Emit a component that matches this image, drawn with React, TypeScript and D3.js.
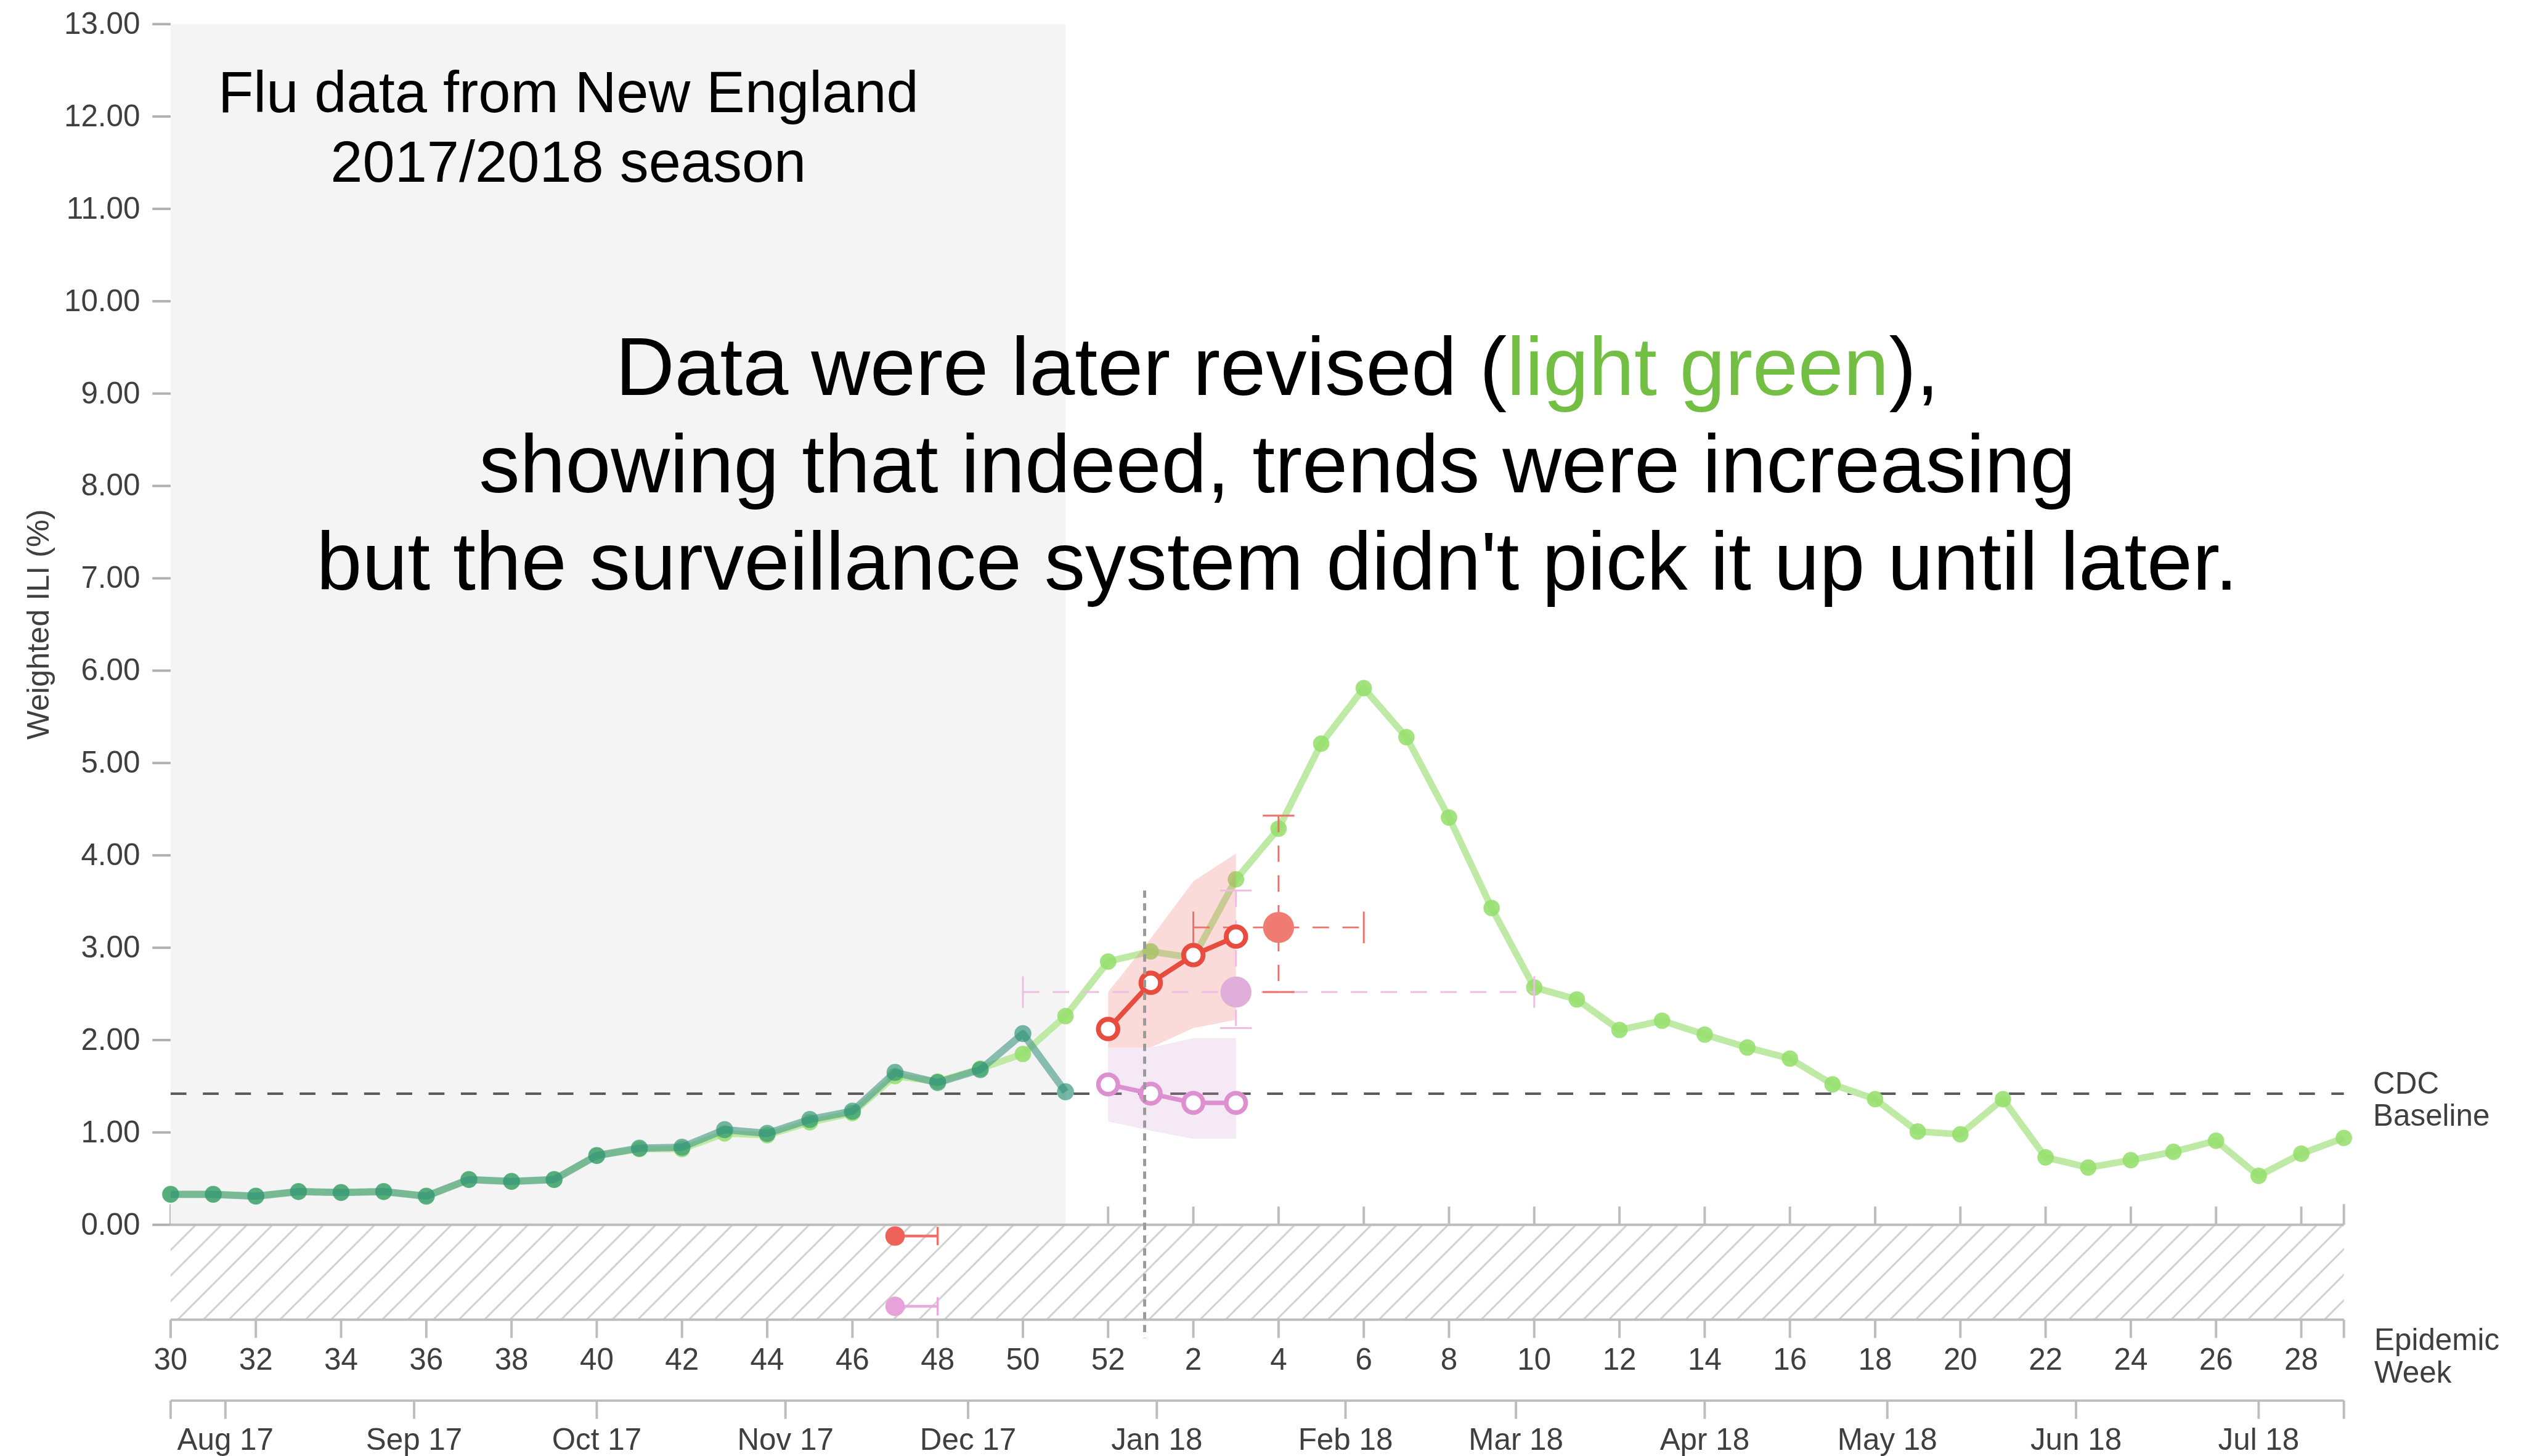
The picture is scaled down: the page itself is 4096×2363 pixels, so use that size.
import React from "react";
import * as d3 from "d3";

// MMWR epidemic weeks of the 2017/2018 season (week 30 of 2017 through week 29 of 2018)
const seasonWeeks = [
  30, 31, 32, 33, 34, 35, 36, 37, 38, 39, 40, 41, 42, 43, 44, 45, 46, 47, 48, 49, 50, 51, 52,
  1, 2, 3, 4, 5, 6, 7, 8, 9, 10, 11, 12, 13, 14, 15, 16, 17, 18, 19, 20, 21, 22, 23, 24, 25, 26, 27, 28, 29,
];

// Revised weighted ILI (%) for the full season
const revisedILI = [
  0.33, 0.33, 0.31, 0.36, 0.35, 0.36, 0.31, 0.49, 0.47, 0.49, 0.75, 0.82, 0.82, 0.99, 0.97, 1.11, 1.21, 1.61,
  1.55, 1.69, 1.85, 2.26, 2.85, 2.96, 2.89, 3.74, 4.29, 5.21, 5.81, 5.28, 4.41, 3.43, 2.57, 2.44, 2.11, 2.21,
  2.06, 1.92, 1.8, 1.52, 1.36, 1.01, 0.98, 1.36, 0.73, 0.62, 0.7, 0.79, 0.91, 0.53, 0.77, 0.94,
];

// Weighted ILI (%) as first reported, weeks 30 to 51
const reportedWeeks = [30, 31, 32, 33, 34, 35, 36, 37, 38, 39, 40, 41, 42, 43, 44, 45, 46, 47, 48, 49, 50, 51];
const reportedILI = [
  0.33, 0.33, 0.31, 0.36, 0.35, 0.36, 0.31, 0.49, 0.47, 0.49, 0.75, 0.83, 0.84, 1.03, 0.99, 1.14, 1.23, 1.65,
  1.54, 1.68, 2.07, 1.44,
];

// Short-term forecasts (1-4 weeks ahead)
const forecastWeeks = [52, 1, 2, 3];
const modelAPoint = [2.12, 2.62, 2.92, 3.12];
const modelALow = [1.92, 1.92, 2.13, 2.22];
const modelAHigh = [2.52, 3.1, 3.72, 4.02];
const modelBPoint = [1.52, 1.42, 1.32, 1.32];
const modelBLow = [1.12, 1.02, 0.93, 0.93];
const modelBHigh = [1.92, 1.92, 2.02, 2.02];

// Peak week / peak intensity predictions: [point, low, high]
const modelAPeakWeek = [4, 2, 6];
const modelAPeakValue = [3.22, 2.52, 4.43];
const modelBPeakWeek = [3, 50, 10];
const modelBPeakValue = [2.52, 2.13, 3.62];

// Season onset predictions: [point, low, high]
const modelAOnset = [47, 47, 48];
const modelBOnset = [47, 47, 48];

const cdcBaseline = 1.42;
const yTickValues = [0, 1, 2, 3, 4, 5, 6, 7, 8, 9, 10, 11, 12, 13];
const currentDate = new Date(Date.UTC(2017, 11, 30));
const currentLineTop = 3.62;
const lastReportedWeek = 51;

const annotationLines = [
  ["Data were later revised (", "light green", "),"],
  ["showing that indeed, trends were increasing", "", ""],
  ["but the surveillance system didn't pick it up until later.", "", ""],
];
const titleLines = ["Flu data from New England", "2017/2018 season"];

// ---- layout ----
const W = 4148;
const H = 2393;
const left = 280.4;
const right = 3852;
const top = 39.7;
const zeroY = 2013;
const weekAxisY = 2169;
const monthAxisY = 2302;
const tick = 30;
const font = "'Liberation Sans', Arial, Helvetica, sans-serif";
const axisGrey = "#bdbdbd";
const textGrey = "#3f3f3f";

const epiWeekStart = (w: number) =>
  w >= 30
    ? d3.utcDay.offset(new Date(Date.UTC(2017, 0, 1)), 7 * (w - 1))
    : d3.utcDay.offset(new Date(Date.UTC(2017, 11, 31)), 7 * (w - 1));

const x = d3.scaleUtc().domain([epiWeekStart(30), epiWeekStart(29)]).range([left, right]);
const y = d3.scaleLinear().domain([0, 13]).range([zeroY, top]);
const xw = (w: number) => x(epiWeekStart(w));

export default function App() {
  const weekTicks = seasonWeeks.filter((_, i) => i % 2 === 0);
  const monthTicks = d3.utcMonth.range(x.domain()[0], x.domain()[1]);
  const fmtMonth = d3.utcFormat("%b %y");

  const line = d3
    .line<[number, number]>()
    .x((d) => xw(d[0]))
    .y((d) => y(d[1]));
  const revised: [number, number][] = seasonWeeks.map((w, i) => [w, revisedILI[i]]);
  const reported: [number, number][] = reportedWeeks.map((w, i) => [w, reportedILI[i]]);
  const modelA: [number, number][] = forecastWeeks.map((w, i) => [w, modelAPoint[i]]);
  const modelB: [number, number][] = forecastWeeks.map((w, i) => [w, modelBPoint[i]]);

  const band = (lo: number[], hi: number[]) =>
    d3
      .area<number>()
      .x((w) => xw(w))
      .y0((_, i) => y(lo[i]))
      .y1((_, i) => y(hi[i]))(forecastWeeks) as string;

  const outerEnds = [left, right];

  const peak = (
    weeks: number[],
    vals: number[],
    color: string,
    fill: string,
    key: string
  ) => {
    const cx = xw(weeks[0]);
    const cy = y(vals[0]);
    const x0 = xw(weeks[1]);
    const x1 = xw(weeks[2]);
    const y0 = y(vals[1]);
    const y1 = y(vals[2]);
    const cap = 26;
    return (
      <g key={key} stroke={color} strokeWidth={3} fill="none">
        <line x1={x0} x2={x1} y1={cy} y2={cy} strokeDasharray="27 22" />
        <line x1={cx} x2={cx} y1={y1} y2={y0} strokeDasharray="27 22" />
        <line x1={x0} x2={x0} y1={cy - cap} y2={cy + cap} />
        <line x1={x1} x2={x1} y1={cy - cap} y2={cy + cap} />
        <line x1={cx - cap} x2={cx + cap} y1={y0} y2={y0} />
        <line x1={cx - cap} x2={cx + cap} y1={y1} y2={y1} />
        <circle cx={cx} cy={cy} r={25.5} fill={fill} stroke="none" />
      </g>
    );
  };

  const onset = (weeks: number[], rowY: number, color: string, fill: string, key: string) => (
    <g key={key}>
      <line x1={xw(weeks[1])} x2={xw(weeks[2])} y1={rowY} y2={rowY} stroke={color} strokeWidth={4.5} />
      <line x1={xw(weeks[2])} x2={xw(weeks[2])} y1={rowY - 15} y2={rowY + 15} stroke={color} strokeWidth={3.5} />
      <circle cx={xw(weeks[0])} cy={rowY} r={16} fill={fill} />
    </g>
  );

  return (
    <svg
      width={4096}
      height={2363}
      viewBox={`0 0 ${W} ${H}`}
      style={{ position: "absolute", left: 0, top: 0, display: "block", background: "#fff" }}
      fontFamily={font}
    >
      <defs>
        <pattern id="hatch" patternUnits="userSpaceOnUse" width={42} height={42} x={25} y={0}>
          <path
            d="M-10.5,10.5 L10.5,-10.5 M0,42 L42,0 M31.5,52.5 L52.5,31.5"
            stroke="#cfcfcf"
            strokeWidth={3}
          />
        </pattern>
      </defs>
      <rect x={0} y={0} width={W} height={H} fill="#fff" />

      {/* inner ticks above the zero line */}
      <g stroke={axisGrey} strokeWidth={4}>
        {weekTicks.map((w) => (
          <line key={"tt" + w} x1={xw(w)} x2={xw(w)} y1={zeroY} y2={zeroY - tick} />
        ))}
        {outerEnds.map((p) => (
          <line key={"to" + p} x1={p} x2={p} y1={zeroY} y2={zeroY - tick - 4} />
        ))}
      </g>

      {/* shaded region: data available when the forecast was made */}
      <rect
        x={left}
        y={top}
        width={xw(lastReportedWeek) - left}
        height={zeroY - top}
        fill="#f4f4f4"
      />

      {/* onset band */}
      <rect x={left} y={zeroY} width={right - left} height={weekAxisY - zeroY} fill="url(#hatch)" />

      {/* y axis */}
      <g>
        {yTickValues.map((v) => (
          <g key={"y" + v}>
            <line x1={left - tick} x2={left} y1={y(v)} y2={y(v)} stroke="#b0b0b0" strokeWidth={4} />
            <text
              x={left - 50}
              y={y(v)}
              dy="0.32em"
              textAnchor="end"
              fontSize={50}
              fill={textGrey}
            >
              {d3.format(".2f")(v)}
            </text>
          </g>
        ))}
        <text
          transform={`translate(80,${(y(0) + y(13)) / 2}) rotate(-90)`}
          textAnchor="middle"
          fontSize={51}
          fill={textGrey}
        >
          Weighted ILI (%)
        </text>
      </g>

      {/* zero line */}
      <line x1={left} x2={right} y1={zeroY} y2={zeroY} stroke={axisGrey} strokeWidth={4} />

      {/* epidemic week axis */}
      <g>
        <line x1={left} x2={right} y1={weekAxisY} y2={weekAxisY} stroke={axisGrey} strokeWidth={4} />
        {outerEnds.map((p) => (
          <line key={"wo" + p} x1={p} x2={p} y1={weekAxisY} y2={weekAxisY + tick} stroke={axisGrey} strokeWidth={4} />
        ))}
        {weekTicks.map((w) => (
          <g key={"w" + w}>
            <line x1={xw(w)} x2={xw(w)} y1={weekAxisY} y2={weekAxisY + tick} stroke={axisGrey} strokeWidth={4} />
            <text x={xw(w)} y={weekAxisY + 82} textAnchor="middle" fontSize={50} fill={textGrey}>
              {w}
            </text>
          </g>
        ))}
        <text x={3902} y={2219} fontSize={50} fill={textGrey}>
          Epidemic
        </text>
        <text x={3902} y={2272} fontSize={50} fill={textGrey}>
          Week
        </text>
      </g>

      {/* month axis */}
      <g>
        <line x1={left} x2={right} y1={monthAxisY} y2={monthAxisY} stroke={axisGrey} strokeWidth={4} />
        {outerEnds.map((p) => (
          <line key={"mo" + p} x1={p} x2={p} y1={monthAxisY} y2={monthAxisY + tick} stroke={axisGrey} strokeWidth={4} />
        ))}
        {monthTicks.map((m) => (
          <g key={"m" + m.getTime()}>
            <line x1={x(m)} x2={x(m)} y1={monthAxisY} y2={monthAxisY + tick} stroke={axisGrey} strokeWidth={4} />
            <text x={x(m)} y={monthAxisY + 81} textAnchor="middle" fontSize={50} fill={textGrey}>
              {fmtMonth(m)}
            </text>
          </g>
        ))}
      </g>

      {/* CDC baseline */}
      <line
        x1={left}
        x2={right}
        y1={y(cdcBaseline)}
        y2={y(cdcBaseline)}
        stroke="#5a5a5a"
        strokeWidth={4}
        strokeDasharray="26 27"
      />
      <text x={3900} y={y(cdcBaseline)} fontSize={50} fill={textGrey}>
        CDC
      </text>
      <text x={3900} y={y(cdcBaseline) + 53} fontSize={50} fill={textGrey}>
        Baseline
      </text>

      {/* revised series */}
      <path d={line(revised) as string} fill="none" stroke="#bfeaa5" strokeWidth={11} strokeLinejoin="round" />
      {revised.map((d) => (
        <circle key={"r" + d[0]} cx={xw(d[0])} cy={y(d[1])} r={13.5} fill="#93de69" fillOpacity={0.85} />
      ))}

      {/* originally reported series */}
      <path
        d={line(reported) as string}
        fill="none"
        stroke="#4c9c8a"
        strokeOpacity={0.64}
        strokeWidth={12}
        strokeLinejoin="round"
      />
      {reported.map((d) => (
        <circle key={"o" + d[0]} cx={xw(d[0])} cy={y(d[1])} r={14} fill="#2c9278" fillOpacity={0.65} />
      ))}

      {/* forecast uncertainty bands */}
      <path d={band(modelALow, modelAHigh)} fill="#ec6a61" fillOpacity={0.24} />
      <path d={band(modelBLow, modelBHigh)} fill="#c98fc9" fillOpacity={0.2} />

      {/* peak predictions */}
      {peak(modelBPeakWeek, modelBPeakValue, "#edbde3", "#e0aedb", "pb")}
      {peak(modelAPeakWeek, modelAPeakValue, "#ef7068", "#ef7b73", "pa")}

      {/* forecast trajectories */}
      <path d={line(modelB) as string} fill="none" stroke="#de8fcf" strokeWidth={7.5} />
      {modelB.map((d) => (
        <circle key={"b" + d[0]} cx={xw(d[0])} cy={y(d[1])} r={16} fill="#fff" stroke="#de8fcf" strokeWidth={7.5} />
      ))}
      <path d={line(modelA) as string} fill="none" stroke="#e84c3f" strokeWidth={8} />
      {modelA.map((d) => (
        <circle key={"a" + d[0]} cx={xw(d[0])} cy={y(d[1])} r={16} fill="#fff" stroke="#e84c3f" strokeWidth={8} />
      ))}

      {/* onset predictions */}
      {onset(modelAOnset, zeroY + 18.5, "#ef7068", "#ee6259", "oa")}
      {onset(modelBOnset, zeroY + 134, "#eaa9dd", "#e8a2da", "ob")}

      {/* date of forecast */}
      <line
        x1={x(currentDate)}
        x2={x(currentDate)}
        y1={y(currentLineTop)}
        y2={weekAxisY + tick}
        stroke="#9a9a9a"
        strokeWidth={5}
        strokeDasharray="12 9"
      />

      {/* title */}
      {titleLines.map((t, i) => (
        <text key={"t" + i} x={934} y={184 + i * 115} textAnchor="middle" fontSize={95} fill="#000">
          {t}
        </text>
      ))}

      {/* annotation */}
      {annotationLines.map((parts, i) => (
        <text key={"a" + i} x={2099} y={649 + i * 160} textAnchor="middle" fontSize={134.5} fill="#000">
          <tspan>{parts[0]}</tspan>
          {parts[1] ? <tspan fill="#72bf44">{parts[1]}</tspan> : null}
          {parts[2] ? <tspan>{parts[2]}</tspan> : null}
        </text>
      ))}
    </svg>
  );
}
